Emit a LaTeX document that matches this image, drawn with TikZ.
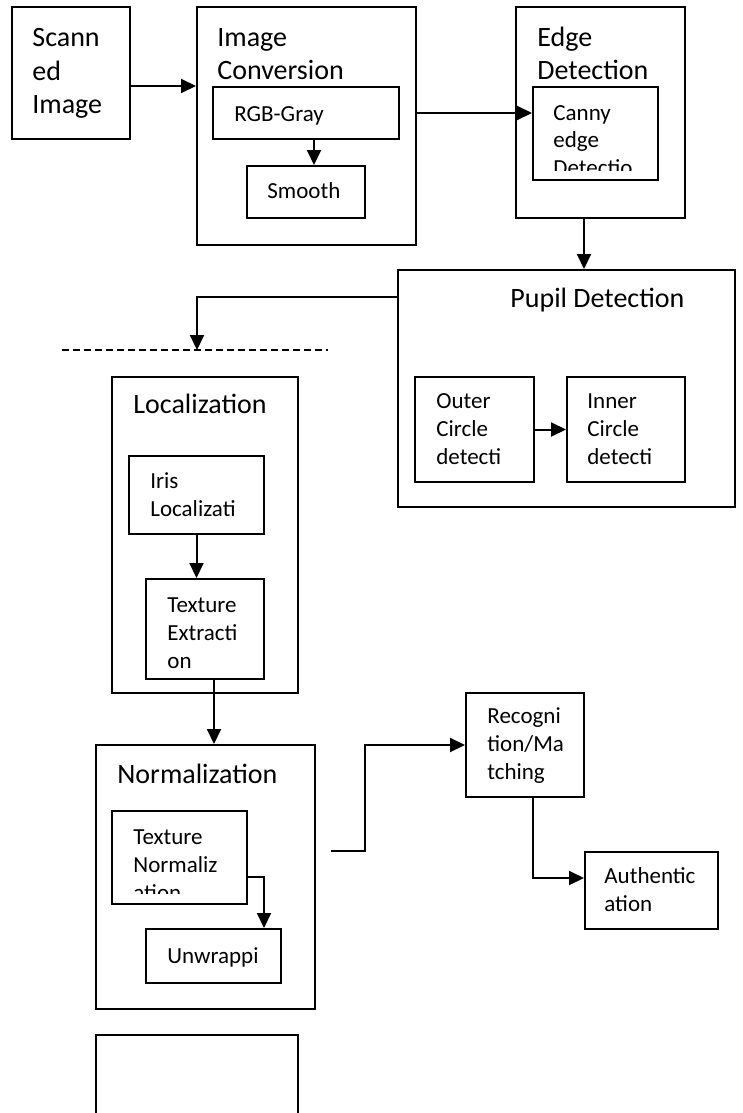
\documentclass[tikz,border=0pt]{standalone}
\usepackage{fontspec}
\setmainfont{Carlito}
\usetikzlibrary{arrows.meta,fit}

\begin{document}
\begin{tikzpicture}[
  x=0.5pt, y=-0.5pt,
  >={Triangle[length=7.5pt,width=7pt]},
  box/.style={draw, line width=1pt, inner sep=0pt},
  big/.style={font=\fontsize{14pt}{16.5pt}\selectfont, anchor=base west, inner sep=0pt, align=left},
  small/.style={font=\fontsize{11.5pt}{14pt}\selectfont, anchor=base west, inner sep=0pt, align=left},
  arrow/.style={->, line width=1pt},
  link/.style={line width=1pt}
]
\useasboundingbox (0,0) rectangle (743,1113);

% top row (text nodes sit on the baseline of their last line)
\node[box, fit={(12,7) (130,139)}] (scan) {};
\node[big] (lscan) at (32,113) {Scann\\ed\\Image};

\node[box, fit={(197,7) (416,245)}] (conv) {};
\node[big] (lconv) at (217,80) {Image\\Conversion};
\node[box, fit={(213,87) (399,139)}] (rgb) {};
\node[small] (lrgb) at (234,122) {RGB-Gray};
\node[box, fit={(247,166) (365,218)}] (smooth) {};
\node[small] (lsmooth) at (267,198) {Smooth};

\node[box, fit={(516,7) (685,218)}] (edge) {};
\node[big] (ledge) at (537,80) {Edge\\Detection};
\node[box, fit={(533,87) (658,180)}] (canny) {};
\begin{scope}
  \clip (canny.north west) rectangle (658,170);
  \node[small] (lcanny) at (553,176) {Canny\\edge\\Detectio};
\end{scope}

% pupil
\node[box, fit={(398,270) (735,507)}] (pupil) {};
\node[big] (lpupil) at (510,307) {Pupil Detection};
\node[box, fit={(415,377) (534,482)}] (outer) {};
\node[small] (louter) at (436,464) {Outer\\Circle\\detecti};
\node[box, fit={(567,377) (685,482)}] (inner) {};
\node[small] (linner) at (587,464) {Inner\\Circle\\detecti};

% localization
\coordinate (dashL) at (62,350);
\coordinate (dashR) at (328,350);
\node[box, fit={(112,377) (298,693)}] (loc) {};
\node[big] (lloc) at (133,413) {Localization};
\node[box, fit={(129,456) (264,534)}] (iris) {};
\node[small] (liris) at (150,516) {Iris\\Localizati};
\node[box, fit={(146,579) (264,679)}] (texext) {};
\node[small] (ltexext) at (167,668) {Texture\\Extracti\\on};

% normalization
\node[box, fit={(96,745) (315,1009)}] (norm) {};
\node[big] (lnorm) at (117,783) {Normalization};
\node[box, fit={(112,811) (247,904)}] (texnorm) {};
\begin{scope}
  \clip (texnorm.north west) rectangle (247,893);
  \node[small] (ltexnorm) at (133,900) {Texture\\Normaliz\\ation};
\end{scope}
\node[box, fit={(146,929) (281,983)}] (unwrap) {};
\node[small] (lunwrap) at (167,963) {Unwrappi};
\draw[link] (96,1113) -- (96,1035) -- (298,1035) -- (298,1113);

% matching
\coordinate (normout) at (331,851);
\node[box, fit={(466,693) (584,797)}] (recog) {};
\node[small] (lrecog) at (487,779) {Recogni\\tion/Ma\\tching};
\node[box, fit={(585,852) (718,929)}] (auth) {};
\node[small] (lauth) at (604,911) {Authentic\\ation};

% connectors
\draw[arrow] (scan.east |- 0,86) -- (conv.west |- 0,86);
\draw[arrow] (rgb.south -| 314,0) -- (smooth.north -| 314,0);
\draw[arrow] (conv.east |- 0,113) -- (canny.west |- 0,113);
\draw[arrow] (edge.south -| 584,0) -- (pupil.north -| 584,0);
\draw[arrow] (pupil.west |- 0,297) -| (dashL -| 197,0);
\draw[link, dash pattern=on 3.5pt off 2pt] (dashL) -- (dashR);
\draw[arrow] (outer.east) -- (inner.west);
\draw[arrow] (iris.south) -- (iris.south |- texext.north);
\draw[arrow] (texext.south -| 214,666) -- (norm.north -| 214,0);
\draw[arrow] (texnorm.east |- 0,877) -| (unwrap.north -| 264,0);
\draw[arrow] (normout) -- ++(34,0) |- (recog.west);
\draw[arrow] (recog.south -| 533,0) |- (auth.west |- 0,878);
\end{tikzpicture}
\end{document}
